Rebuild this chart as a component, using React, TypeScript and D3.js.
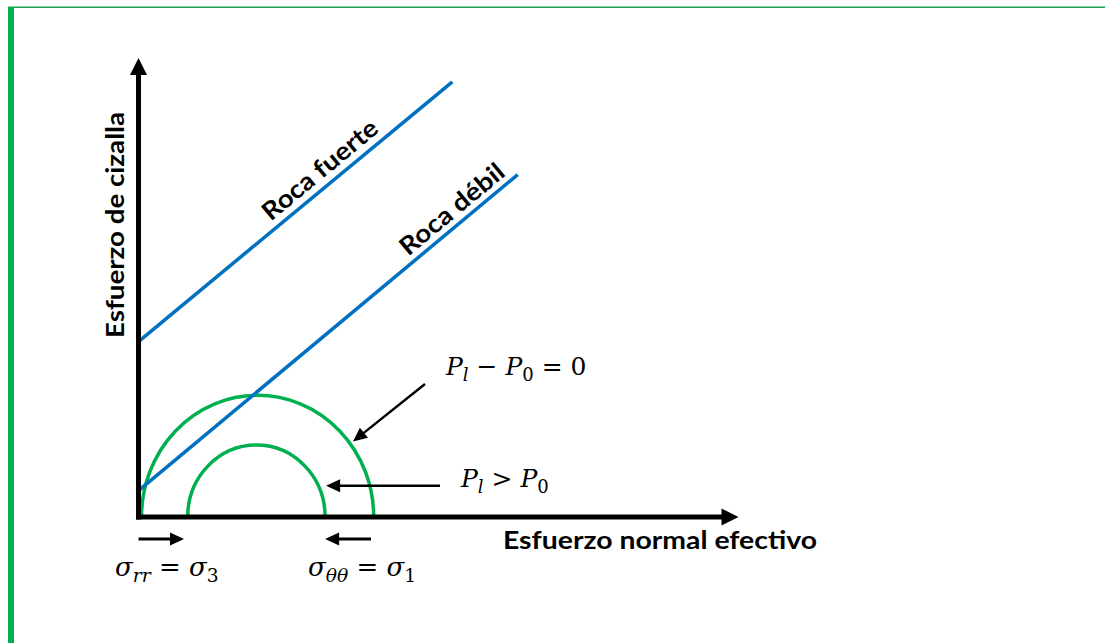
import React from "react";
import * as d3 from "d3";

// Mohr–Coulomb failure envelopes (τ = c + σ·tanφ)
const envelopeNames = ["Roca fuerte", "Roca débil"];
const cohesion = [2.79, 0.42];
const frictionSlope = [0.79, 0.795];
const envelopeEnd = [5.23, 6.32];

// Mohr circles: principal stresses (σ3, σ1)
const sigma3 = [0.05, 0.82];
const sigma1 = [3.92, 3.11];

const xAxisTitle = "Esfuerzo normal efectivo";
const yAxisTitle = "Esfuerzo de cizalla";

const W = 1105;
const H = 643;
const GREEN = "#00b050";
const BLUE = "#0070c0";
const BOLD_FONT = "Lato, 'Open Sans', sans-serif";
const MATH_FONT = "'DejaVu Serif', 'Liberation Serif', serif";

const x = d3.scaleLinear().domain([0, 10]).range([138.5, 738.5]);
const y = d3.scaleLinear().domain([0, 7.3]).range([517, 58]);

// filled triangular arrow head with its tip at (tx, ty), pointing away from (fx, fy)
function head(tx: number, ty: number, fx: number, fy: number, len: number, wid: number) {
  const a = Math.atan2(ty - fy, tx - fx);
  const bx = tx - len * Math.cos(a);
  const by = ty - len * Math.sin(a);
  const px = (wid / 2) * Math.sin(a);
  const py = (wid / 2) * -Math.cos(a);
  return `${tx},${ty} ${bx + px},${by + py} ${bx - px},${by - py}`;
}

function Arrow({ x1, y1, x2, y2, w, len, wid }: any) {
  const a = Math.atan2(y2 - y1, x2 - x1);
  const ex = x2 - (len - 1) * Math.cos(a);
  const ey = y2 - (len - 1) * Math.sin(a);
  return (
    <g>
      <line x1={x1} y1={y1} x2={ex} y2={ey} stroke="#000" strokeWidth={w} />
      <polygon points={head(x2, y2, x1, y1, len, wid)} fill="#000" />
    </g>
  );
}

// label placement along each envelope
const labelAt = [3.2, 5.39];
const labelGap = [8, 7];
const labelLength = [142, 128];

export default function App() {
  const pxSlope = (i: number) =>
    (y(cohesion[i] + frictionSlope[i]) - y(cohesion[i])) / (x(1) - x(0));

  const semi = (s3: number, s1: number) => {
    const rx = (x(s1) - x(s3)) / 2;
    const ry = y(0) - y((s1 - s3) / 2);
    return `M${x(s3)},${y(0)} A${rx},${ry} 0 0 1 ${x(s1)},${y(0)}`;
  };

  const sub = { fontSize: "0.72em" } as const;

  return (
    <svg
      width={W}
      height={H}
      style={{ position: "absolute", left: 0, top: 0, background: "#fff" }}
    >
      {/* frame */}
      <rect x={8} y={6.5} width={W - 8} height={1.5} fill="#1e9e50" />
      <rect x={8} y={7} width={6} height={H - 7} fill={GREEN} />

      {/* Mohr circles */}
      {sigma3.map((s3, i) => (
        <path key={i} d={semi(s3, sigma1[i])} fill="none" stroke={GREEN} strokeWidth={3.5} />
      ))}

      {/* failure envelopes */}
      {envelopeNames.map((name, i) => {
        const line = d3
          .line<number>()
          .x((d) => x(d))
          .y((d) => y(cohesion[i] + frictionSlope[i] * d));
        const lx = labelAt[i];
        const ang = (Math.atan(pxSlope(i)) * 180) / Math.PI;
        return (
          <g key={name}>
            <path d={line([0.01, envelopeEnd[i]]) || ""} fill="none" stroke={BLUE} strokeWidth={3.5} />
            <text
              transform={`translate(${x(lx)},${y(cohesion[i] + frictionSlope[i] * lx)}) rotate(${ang})`}
              y={-labelGap[i]}
              textAnchor="middle"
              fontFamily={BOLD_FONT}
              fontWeight="bold"
              fontSize={25}
              textLength={labelLength[i]}
              lengthAdjust="spacingAndGlyphs"
              fill="#000"
            >
              {name}
            </text>
          </g>
        );
      })}

      {/* axes */}
      <line x1={x(0)} y1={y(0) + 2.5} x2={x(0)} y2={y.range()[1] + 15} stroke="#000" strokeWidth={5} />
      <polygon points={head(x(0), y.range()[1], x(0), y(0), 17, 17)} fill="#000" />
      <line x1={x(0) - 2.5} y1={y(0)} x2={x.range()[1] - 15} y2={y(0)} stroke="#000" strokeWidth={5} />
      <polygon points={head(x.range()[1], y(0), x(0), y(0), 17, 17)} fill="#000" />

      {/* axis titles */}
      <text
        x={503}
        y={549}
        fontFamily={BOLD_FONT}
        fontWeight="bold"
        fontSize={24}
        textLength={314}
        lengthAdjust="spacingAndGlyphs"
      >
        {xAxisTitle}
      </text>
      <text
        transform="translate(124,338) rotate(-90)"
        fontFamily={BOLD_FONT}
        fontWeight="bold"
        fontSize={24}
        textLength={226}
        lengthAdjust="spacingAndGlyphs"
      >
        {yAxisTitle}
      </text>

      {/* annotation arrows */}
      <Arrow x1={425} y1={384} x2={353} y2={441.5} w={2.5} len={14} wid={13} />
      <Arrow x1={440} y1={485.7} x2={x(sigma1[1]) + 1} y2={485.7} w={2.5} len={14} wid={13} />
      <Arrow x1={x(0)} y1={539} x2={184} y2={539} w={3} len={14} wid={13} />
      <Arrow x1={371} y1={539} x2={x(sigma1[1])} y2={539} w={3} len={14} wid={13} />

      {/* stress-state labels */}
      <text x={446} y={375} fontFamily={MATH_FONT} fontSize={25} fill="#000">
        <tspan fontStyle="italic">P</tspan>
        <tspan fontStyle="italic" dy={6} style={sub}>l</tspan>
        <tspan dy={-6}> − </tspan>
        <tspan fontStyle="italic">P</tspan>
        <tspan dy={6} style={sub}>0</tspan>
        <tspan dy={-6}> = 0</tspan>
      </text>
      <text x={461} y={487} fontFamily={MATH_FONT} fontSize={25} fill="#000">
        <tspan fontStyle="italic">P</tspan>
        <tspan fontStyle="italic" dy={6} style={sub}>l</tspan>
        <tspan dy={-6}> &gt; </tspan>
        <tspan fontStyle="italic">P</tspan>
        <tspan dy={6} style={sub}>0</tspan>
      </text>
      <text x={115} y={576} fontFamily={MATH_FONT} fontSize={26} fill="#000">
        <tspan fontStyle="italic">σ</tspan>
        <tspan fontStyle="italic" dy={6} style={sub}>rr</tspan>
        <tspan dy={-6}> = </tspan>
        <tspan fontStyle="italic">σ</tspan>
        <tspan dy={6} style={sub}>3</tspan>
      </text>
      <text x={308} y={576} fontFamily={MATH_FONT} fontSize={26} fill="#000">
        <tspan fontStyle="italic">σ</tspan>
        <tspan fontStyle="italic" dy={6} style={sub}>θθ</tspan>
        <tspan dy={-6}> = </tspan>
        <tspan fontStyle="italic">σ</tspan>
        <tspan dy={6} style={sub}>1</tspan>
      </text>
    </svg>
  );
}
